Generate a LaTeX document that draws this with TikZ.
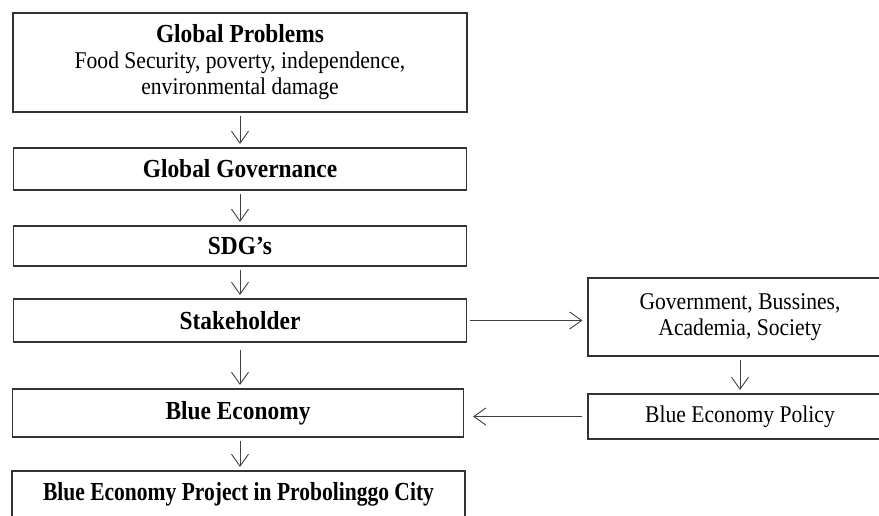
\documentclass[tikz,border=0pt]{standalone}
\usepackage{graphicx}
\usepackage{fontspec}
\setmainfont[FakeStretch=0.9]{Liberation Serif}
\usetikzlibrary{arrows.meta}
\begin{document}
\begin{tikzpicture}[x=1pt,y=-1pt,
  box/.style={draw=black!80, line width=1.1pt, rectangle, align=center, inner sep=0pt,
    font=\fontsize{24}{26}\selectfont},
  ttl/.style={font=\fontsize{26}{26}\selectfont\bfseries},
  arr/.style={draw=black!75, line width=0.9pt, -{Straight Barb[length=12pt,width=17pt,line width=0.9pt]},
    shorten <=3pt, shorten >=3.5pt}]
\useasboundingbox (0,0) rectangle (879,516);
\clip (0,0) rectangle (879,516);
\node[box, minimum width=454pt, minimum height=99pt] (b1) at (240,62.5)
  {{\bfseries\fontsize{26}{26}\selectfont Global Problems}\\Food Security, poverty, independence,\\environmental damage};
\node[box, ttl, minimum width=453pt, minimum height=42pt] (b2) at (240,169) {Global Governance};
\node[box, ttl, minimum width=453pt, minimum height=40pt] (b3) at (240,246) {SDG’s};
\node[box, ttl, minimum width=453pt, minimum height=43pt] (b4) at (240,320.5) {Stakeholder};
\node[box, ttl, minimum width=451pt, minimum height=48pt] (b5) at (238,413) {Blue Economy};
\node[box, ttl, minimum width=453pt, minimum height=46pt] (b6) at (238.5,494) {\scalebox{0.92}[1]{Blue Economy Project in Probolinggo City}};
\node[box, minimum width=304pt, minimum height=78pt] (ga) at (740,317) {Government, Bussines,\\Academia, Society};
\node[box, minimum width=304pt, minimum height=45pt] (bp) at (740,416.5) {Blue Economy Policy};
\draw[arr] (b1.south) -- (b1.south |- b2.north);
\draw[arr] (b2.south) -- (b2.south |- b3.north);
\draw[arr] (b3.south) -- (b3.south |- b4.north);
\draw[arr, shorten <=7pt] (b4.south) -- (b4.south |- b5.north);
\draw[arr] (b4.south |- b5.south) -- (b4.south |- b6.north);
\draw[arr, shorten >=5pt] (b4.east) -- (b4.east -| ga.west);
\draw[arr] (ga.south) -- (bp.north);
\draw[arr, shorten >=9pt, shorten <=5pt] (bp.west) -- (bp.west -| b5.east);
\end{tikzpicture}
\end{document}
